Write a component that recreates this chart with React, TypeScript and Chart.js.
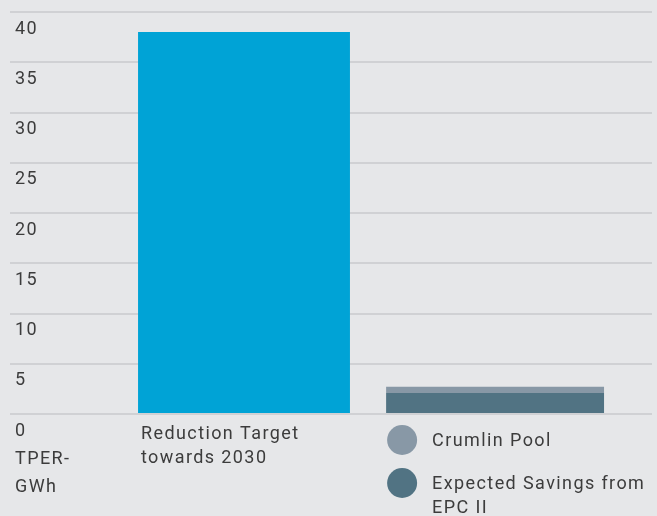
import React, { useEffect, useRef } from 'react';
import { Chart, registerables } from 'chart.js';

Chart.register(...registerables);

// ---- data ----
const categoryLabels: (string | string[])[] = [['Reduction Target', 'towards 2030'], ''];
const categoryPositions = [0, 1];
const reductionTarget: (number | null)[] = [38, null];
const expectedSavingsEPC: (number | null)[] = [null, 2.1];
const crumlinPool: (number | null)[] = [null, 0.6];
const yMin = 0;
const yMax = 40;
const yStep = 5;
const yAxisTitle = ['TPER-', 'GWh'];
const legendLabels = ['Crumlin Pool', 'Expected Savings from EPC II'];

// ---- style ----
const FONT = 'Roboto';
const TEXT = '#3c3c3c';
const BG = '#e6e7e9';
const GRID = '#d0d1d4';
const BLUE = '#00a3d6';
const DARK = '#517383';
const LIGHT = '#8898a6';
const legendColors = [LIGHT, DARK];
const SPACING = '1.4px';

const toPoints = (vals: (number | null)[]) =>
  vals
    .map((y, i) => ({ x: categoryPositions[i], y }))
    .filter((p) => p.y !== null) as { x: number; y: number }[];

const spacingPlugin = {
  id: 'letterSpacing',
  beforeLayout(chart: any) {
    chart.ctx.letterSpacing = SPACING;
  },
  beforeDraw(chart: any) {
    chart.ctx.letterSpacing = SPACING;
  },
};

const legendPlugin = {
  id: 'belowLegend',
  afterDraw(chart: any) {
    const meta = chart.getDatasetMeta(1);
    const el = meta.data[0];
    if (!el) return;
    const left = el.x - el.width / 2;
    const ctx = chart.ctx as CanvasRenderingContext2D;
    const base = chart.chartArea.bottom;
    ctx.save();
    (ctx as any).letterSpacing = SPACING;
    ctx.font = `18px ${FONT}`;
    ctx.textBaseline = 'middle';
    ctx.textAlign = 'left';
    const textX = left + 46;
    const maxW = chart.width - textX - 4;
    legendLabels.forEach((label, i) => {
      const cy = base + 26 + i * 43;
      ctx.fillStyle = legendColors[i];
      ctx.beginPath();
      ctx.arc(left + 16, cy, 15, 0, Math.PI * 2);
      ctx.fill();
      const words = label.split(' ');
      const lines: string[] = [];
      let cur = '';
      words.forEach((w) => {
        const test = cur ? cur + ' ' + w : w;
        if (ctx.measureText(test).width > maxW && cur) {
          lines.push(cur);
          cur = w;
        } else cur = test;
      });
      if (cur) lines.push(cur);
      ctx.fillStyle = TEXT;
      lines.forEach((ln, j) => ctx.fillText(ln, textX, cy + 1 + j * 24));
    });
    ctx.restore();
  },
};

export default function App() {
  const ref = useRef<HTMLCanvasElement>(null);
  useEffect(() => {
    if (!ref.current) return;
    const chart = new Chart(ref.current, {
      type: 'bar',
      data: {
        datasets: [
          {
            label: 'Reduction Target towards 2030',
            data: toPoints(reductionTarget),
            backgroundColor: BLUE,
            barPercentage: 0.844,
            categoryPercentage: 1,
          },
          {
            label: 'Expected Savings from EPC II',
            data: toPoints(expectedSavingsEPC),
            backgroundColor: DARK,
            barPercentage: 0.868,
            categoryPercentage: 1,
          },
          {
            label: 'Crumlin Pool',
            data: toPoints(crumlinPool),
            backgroundColor: LIGHT,
            barPercentage: 0.868,
            categoryPercentage: 1,
          },
        ],
      } as any,
      options: {
        animation: false,
        responsive: false,
        layout: { padding: { left: 10, right: 5, top: 12, bottom: 0 } },
        plugins: { legend: { display: false }, tooltip: { enabled: false } },
        scales: {
          x: {
            type: 'linear',
            min: -0.932,
            max: 1.625,
            offset: false,
            bounds: 'data',
            stacked: true,
            grid: { display: false, drawTicks: false },
            border: { display: false },
            afterBuildTicks: (axis: any) => {
              axis.ticks = categoryPositions.map((value) => ({ value }));
            },
            afterFit: (axis: any) => {
              axis.height = 102;
              axis.paddingLeft = 0;
              axis.paddingRight = 0;
            },
            ticks: {
              align: 'start',
              labelOffset: -103,
              maxRotation: 0,
              minRotation: 0,
              autoSkip: false,
              padding: 8,
              color: TEXT,
              font: { family: FONT, size: 18, lineHeight: 24 / 18 },
              callback: (_v: any, i: number) => categoryLabels[i],
            },
          } as any,
          y: {
            type: 'linear',
            min: yMin,
            max: yMax,
            stacked: true,
            grid: { color: GRID, lineWidth: 2, drawTicks: false },
            border: { display: false },
            afterFit: (axis: any) => {
              axis.width = 0;
              axis.paddingTop = 0;
              axis.paddingBottom = 0;
            },
            ticks: {
              stepSize: yStep,
              autoSkip: false,
              mirror: true,
              padding: 5,
              labelOffset: 17,
              crossAlign: 'near',
              color: TEXT,
              font: { family: FONT, size: 18, lineHeight: 28 / 18 },
              callback: (v: any) => (v === 0 ? ['', '', '0', ...yAxisTitle] : String(v)),
            },
          } as any,
        },
      },
      plugins: [spacingPlugin, legendPlugin],
    });
    return () => chart.destroy();
  }, []);
  return (
    <div style={{ position: 'absolute', left: 0, top: 0, width: 657, height: 516, background: BG }}>
      <canvas ref={ref} width={657} height={516} style={{ display: 'block' }} />
    </div>
  );
}
